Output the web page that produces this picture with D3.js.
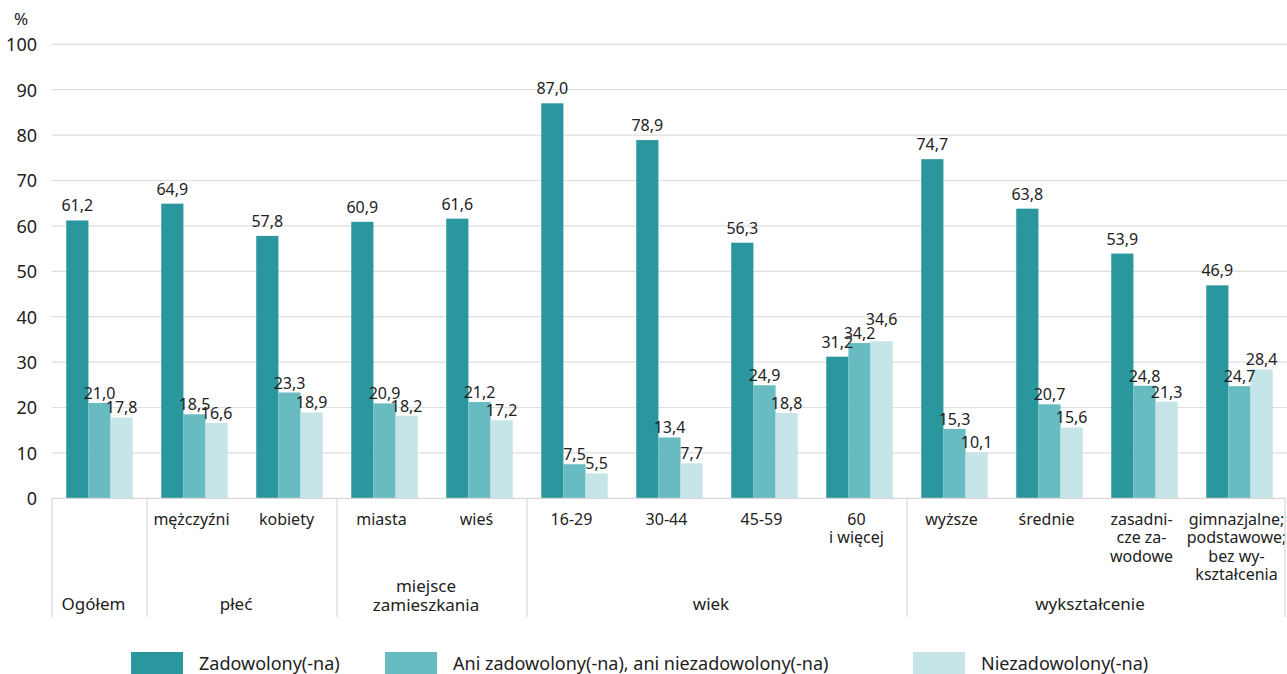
<!DOCTYPE html>
<html>
<head>
<meta charset="utf-8">
<script src="https://cdn.jsdelivr.net/npm/d3@7"></script>
<style>
  html, body { margin: 0; padding: 0; background: #fff; }
  svg { display: block; font-family: "Noto Sans", "Open Sans", sans-serif; }
</style>
</head>
<body>
<svg id="chart" width="1287" height="674"></svg>
<script>
// ---- data ----
const categories = ["", "mężczyźni", "kobiety", "miasta", "wieś", "16-29", "30-44", "45-59",
  "60\ni więcej", "wyższe", "średnie", "zasadni-\ncze za-\nwodowe",
  "gimnazjalne;\npodstawowe;\nbez wy-\nkształcenia"];
const seriesNames = ["Zadowolony(-na)", "Ani zadowolony(-na), ani niezadowolony(-na)", "Niezadowolony(-na)"];
const zadowolony = [61.2, 64.9, 57.8, 60.9, 61.6, 87.0, 78.9, 56.3, 31.2, 74.7, 63.8, 53.9, 46.9];
const ani        = [21.0, 18.5, 23.3, 20.9, 21.2, 7.5, 13.4, 24.9, 34.2, 15.3, 20.7, 24.8, 24.7];
const niezad     = [17.8, 16.6, 18.9, 18.2, 17.2, 5.5, 7.7, 18.8, 34.6, 10.1, 15.6, 21.3, 28.4];
const groupLabels = ["Ogółem", "płeć", "miejsce\nzamieszkania", "wiek", "wykształcenie"];
const groupStart  = [0, 1, 3, 5, 9];
const groupEnd    = [0, 2, 4, 8, 12];
const yTicks = [0, 10, 20, 30, 40, 50, 60, 70, 80, 90, 100];
const colors = ["#2a979e", "#67bbc1", "#c6e5e8"];

const seriesValues = [zadowolony, ani, niezad];
const svg = d3.select("#chart");

const x0 = d3.scaleBand().domain(d3.range(categories.length)).range([52, 1287])
  .paddingInner(0.3).paddingOuter(0.15);
const x1 = d3.scaleBand().domain(d3.range(3)).range([0, x0.bandwidth()]);
const y = d3.scaleLinear().domain([0, 100]).range([498.3, 44.3]);

// grid
svg.append("g").selectAll("line").data(yTicks.filter(d => d > 0)).join("line")
  .attr("x1", 52).attr("x2", 1287)
  .attr("y1", d => y(d)).attr("y2", d => y(d))
  .attr("stroke", "#dedede").attr("stroke-width", 1.2);

// y tick labels
const yAxis = d3.axisLeft(y).tickValues(yTicks).tickSize(0).tickPadding(0);
const ya = svg.append("g").attr("transform", "translate(37,0)").call(yAxis);
ya.select(".domain").remove();
ya.selectAll("text").attr("font-size", 18).attr("fill", "#222")
  .attr("font-family", "Noto Sans, sans-serif").attr("dy", "0.35em");
svg.append("text").attr("x", 21).attr("y", 25).attr("text-anchor", "middle")
  .attr("font-size", 17).attr("fill", "#222").text("%");

// bars
const step = x0.step();
const gBars = svg.append("g");
seriesValues.forEach((vals, s) => {
  gBars.selectAll(null).data(vals).join("rect")
    .attr("x", (d, i) => x0(i) + x1(s))
    .attr("width", x1.bandwidth())
    .attr("y", d => y(d))
    .attr("height", d => y(0) - y(d))
    .attr("fill", colors[s]);
});

// value labels, nudged upward when they collide with the neighbour's label
const labOff = [9, 4, 4];
categories.forEach((c, i) => {
  let prevY = null;
  seriesValues.forEach((vals, s) => {
    let ly = y(vals[i]) - labOff[s];
    if (prevY !== null && Math.abs(ly - prevY) < 6) ly = prevY - 14;
    prevY = ly;
    gBars.append("text")
      .attr("x", x0(i) + x1(s) + x1.bandwidth() / 2)
      .attr("y", ly)
      .attr("text-anchor", "middle")
      .attr("font-size", 16).attr("fill", "#222")
      .text(vals[i].toFixed(1).replace(".", ","));
  });
});

// axis line
svg.append("line").attr("x1", 52).attr("x2", 1285).attr("y1", y(0)).attr("y2", y(0))
  .attr("stroke", "#d6d6d6").attr("stroke-width", 1.2);

// category labels
const gCat = svg.append("g");
categories.forEach((c, i) => {
  const cx = x0(i) + x0.bandwidth() / 2 - 3;
  const t = gCat.append("text")
    .attr("x", cx).attr("y", 525)
    .attr("text-anchor", "middle").attr("font-size", 16).attr("fill", "#222");
  c.split("\n").forEach((line, k) => {
    t.append("tspan").attr("x", cx).attr("dy", k === 0 ? 0 : 18.3).text(line);
  });
});

// group separators & labels
const bound = i => x0(i) - (step - x0.bandwidth()) / 2;
const seps = groupStart.map(g => bound(g)).concat([1285]);
svg.append("g").selectAll("line").data(seps).join("line")
  .attr("x1", d => d).attr("x2", d => d)
  .attr("y1", y(0)).attr("y2", 617)
  .attr("stroke", "#d6d6d6").attr("stroke-width", 1.2);
groupLabels.forEach((g, k) => {
  const cx = (bound(groupStart[k]) + (k < groupLabels.length - 1 ? bound(groupEnd[k] + 1) : 1285)) / 2 - 6;
  const lines = g.split("\n");
  const t = svg.append("text").attr("x", cx).attr("y", lines.length > 1 ? 592 : 610)
    .attr("text-anchor", "middle").attr("font-size", 17).attr("fill", "#222");
  lines.forEach((line, j) => {
    t.append("tspan").attr("x", cx).attr("dy", j === 0 ? 0 : 19).text(line);
  });
});

// legend
const legX = [131, 385, 913];
const lg = svg.append("g");
seriesNames.forEach((n, s) => {
  lg.append("rect").attr("x", legX[s]).attr("y", 652).attr("width", 52).attr("height", 24)
    .attr("fill", colors[s]);
  lg.append("text").attr("x", legX[s] + 68).attr("y", 670)
    .attr("font-size", 18).attr("fill", "#222").text(n);
});
</script>
</body>
</html>
